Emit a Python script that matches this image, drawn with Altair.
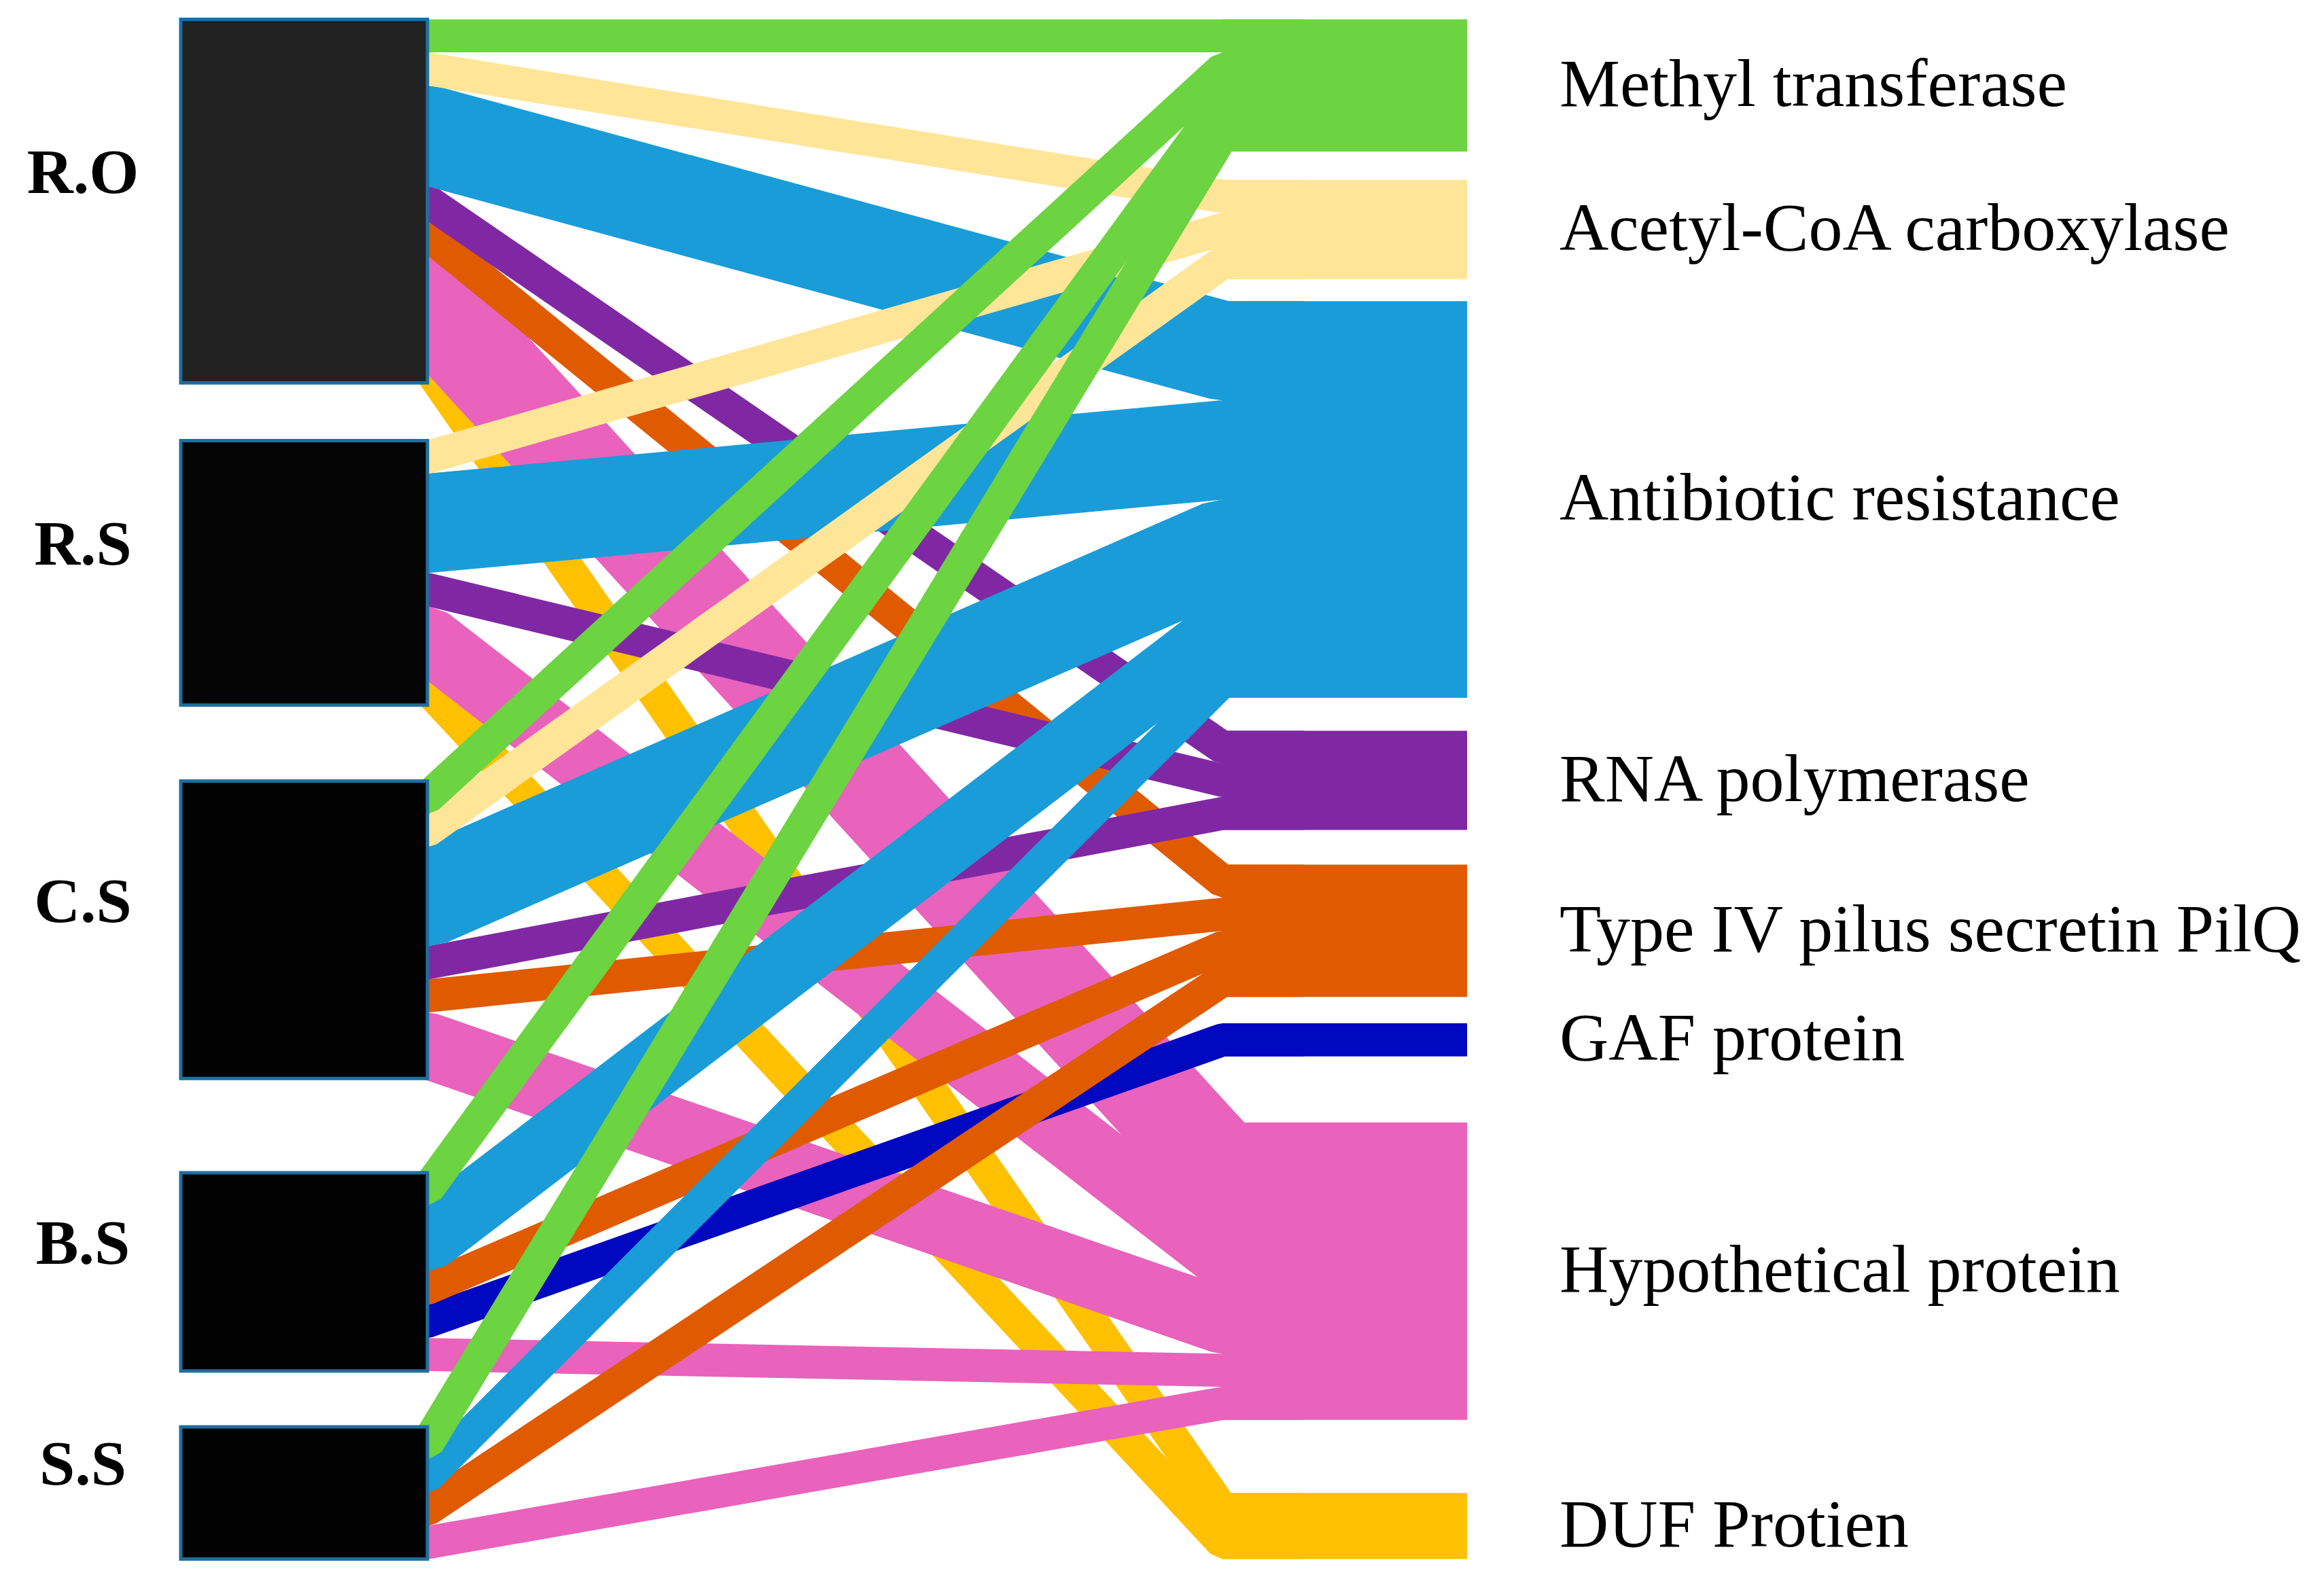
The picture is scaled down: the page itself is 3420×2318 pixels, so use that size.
import altair as alt
import pandas as pd

# ---------------- data ----------------
sources = ["R.O", "R.S", "C.S", "B.S", "S.S"]
targets = ["Methyl transferase", "Acetyl-CoA carboxylase", "Antibiotic resistance",
           "RNA polymerase", "Type IV pilus secretin PilQ", "GAF protein",
           "Hypothetical protein", "DUF Protien"]
target_colors = ["#6CD341", "#FFE597", "#199CD8", "#8028A4", "#E05A00",
                 "#0008C0", "#E962BC", "#FFC000"]
source_fills = ["#212121", "#050505", "#020202", "#020202", "#020202"]

link_source = ["R.O", "R.O", "R.O", "R.O", "R.O", "R.O", "R.O",
               "R.S", "R.S", "R.S", "R.S", "R.S",
               "C.S", "C.S", "C.S", "C.S", "C.S", "C.S",
               "B.S", "B.S", "B.S", "B.S", "B.S",
               "S.S", "S.S", "S.S", "S.S"]
link_target = ["Methyl transferase", "Acetyl-CoA carboxylase", "Antibiotic resistance",
               "RNA polymerase", "Type IV pilus secretin PilQ", "Hypothetical protein", "DUF Protien",
               "Acetyl-CoA carboxylase", "Antibiotic resistance", "RNA polymerase",
               "Hypothetical protein", "DUF Protien",
               "Methyl transferase", "Acetyl-CoA carboxylase", "Antibiotic resistance",
               "RNA polymerase", "Type IV pilus secretin PilQ", "Hypothetical protein",
               "Methyl transferase", "Antibiotic resistance", "Type IV pilus secretin PilQ",
               "GAF protein", "Hypothetical protein",
               "Methyl transferase", "Antibiotic resistance", "Type IV pilus secretin PilQ",
               "Hypothetical protein"]
link_value = [1, 1, 3, 1, 1, 3, 1,
              1, 3, 1, 2, 1,
              1, 1, 3, 1, 1, 2,
              1, 2, 1, 1, 1,
              1, 1, 1, 1]

# ---------------- layout (not data) ----------------
left_gaps = [1.75, 2.3, 2.85, 1.69]          # padding between source nodes (value units)
right_gaps = [0.86, 0.67, 1.0, 1.05, 0.8, 2.0, 2.21]
X_LEFT0, X_LEFT1 = 266, 629                  # source node column (page px)
X_RIGHT0, X_RIGHT1 = 1799, 2159              # target node column (page px)
TUCK = 120                                   # ribbon run-in hidden under the node boxes
UNIT = 48.64                                 # px per value unit
Y0 = 28.4                                    # page y of value 0

src_size = {s: sum(v for ss, v in zip(link_source, link_value) if ss == s) for s in sources}
tgt_size = {t: sum(v for tt, v in zip(link_target, link_value) if tt == t) for t in targets}

src_top, y = {}, 0.0
for i, s in enumerate(sources):
    src_top[s] = y
    y += src_size[s] + (left_gaps[i] if i < len(left_gaps) else 0)
tgt_top, y = {}, 0.0
for i, t in enumerate(targets):
    tgt_top[t] = y
    y += tgt_size[t] + (right_gaps[i] if i < len(right_gaps) else 0)

# ribbon centre lines: stacked in target order at sources, source order at targets
src_off = {s: 0.0 for s in sources}
tgt_off = {t: 0.0 for t in targets}
rows = []
for k in sorted(range(len(link_value)),
                key=lambda k: (sources.index(link_source[k]), targets.index(link_target[k]))):
    s, t, v = link_source[k], link_target[k], link_value[k]
    yc = src_top[s] + src_off[s] + v / 2
    rows.append(dict(link=k, target=t, x=X_LEFT1 - TUCK, yc=yc, w=v))
    rows.append(dict(link=k, target=t, x=X_LEFT1, yc=yc, w=v))
    src_off[s] += v
for k in sorted(range(len(link_value)),
                key=lambda k: (targets.index(link_target[k]), sources.index(link_source[k]))):
    s, t, v = link_source[k], link_target[k], link_value[k]
    yc = tgt_top[t] + tgt_off[t] + v / 2
    rows.append(dict(link=k, target=t, x=X_RIGHT0, yc=yc, w=v))
    rows.append(dict(link=k, target=t, x=X_RIGHT0 + TUCK, yc=yc, w=v))
    tgt_off[t] += v
links = pd.DataFrame(rows)

src_df = pd.DataFrame(dict(
    node=sources, fill=source_fills,
    x=[X_LEFT0] * len(sources), x2=[X_LEFT1] * len(sources),
    y=[src_top[s] for s in sources],
    y2=[src_top[s] + src_size[s] for s in sources],
    ymid=[src_top[s] + src_size[s] / 2 - 0.82 for s in sources],
    lx=[122] * len(sources),
))
tgt_df = pd.DataFrame(dict(
    node=targets, fill=target_colors,
    x=[X_RIGHT0] * len(targets), x2=[X_RIGHT1] * len(targets),
    y=[tgt_top[t] for t in targets],
    y2=[tgt_top[t] + tgt_size[t] for t in targets],
    ymid=[tgt_top[t] + tgt_size[t] / 2 for t in targets],
    lx=[2295] * len(targets),
))

W, H = 3404, 2302
xs = alt.Scale(domain=[8, 8 + W])
ys_ = alt.Scale(domain=[(8 - Y0) / UNIT, (8 + H - Y0) / UNIT], reverse=True)
wmax = max(link_value)
ws = alt.Scale(domain=[0, wmax], range=[0, wmax * UNIT])

X = lambda f: alt.X(f, type="quantitative", scale=xs, axis=None)
Y = lambda f: alt.Y(f, type="quantitative", scale=ys_, axis=None)

layers = []
# ribbons as wide strokes; earlier targets drawn on top
for t, c in reversed(list(zip(targets, target_colors))):
    d = links[links.target == t]
    layers.append(
        alt.Chart(d).mark_line(color=c, strokeCap="butt", strokeJoin="bevel", opacity=1).encode(
            x=X("x"), y=Y("yc"),
            size=alt.Size("w:Q", scale=ws, legend=None),
            detail="link:N",
        )
    )

right_nodes = alt.Chart(tgt_df).mark_rect().encode(
    x=X("x"), x2="x2:Q", y=Y("y"), y2="y2:Q",
    fill=alt.Fill("fill:N", scale=None),
)
left_nodes = alt.Chart(src_df).mark_rect(stroke="#1E6E9E", strokeWidth=5).encode(
    x=X("x"), x2="x2:Q", y=Y("y"), y2="y2:Q",
    fill=alt.Fill("fill:N", scale=None),
)
left_labels = alt.Chart(src_df).mark_text(
    font="Liberation Serif", fontWeight="bold", fontSize=94, align="center",
    baseline="middle", color="#000000",
).encode(x=X("lx"), y=Y("ymid"), text="node:N")
right_labels = alt.Chart(tgt_df).mark_text(
    font="Liberation Serif", fontSize=100, align="left", baseline="middle", color="#000000",
).encode(x=X("lx"), y=Y("ymid"), text="node:N")

chart = alt.layer(*layers, right_nodes, left_nodes, left_labels, right_labels).properties(
    width=W, height=H, padding=0, autosize=alt.AutoSizeParams(type="none"),
    background="#ffffff",
).configure_view(stroke=None)

chart.save("out.html", embed_options={"renderer": "svg", "actions": False})
